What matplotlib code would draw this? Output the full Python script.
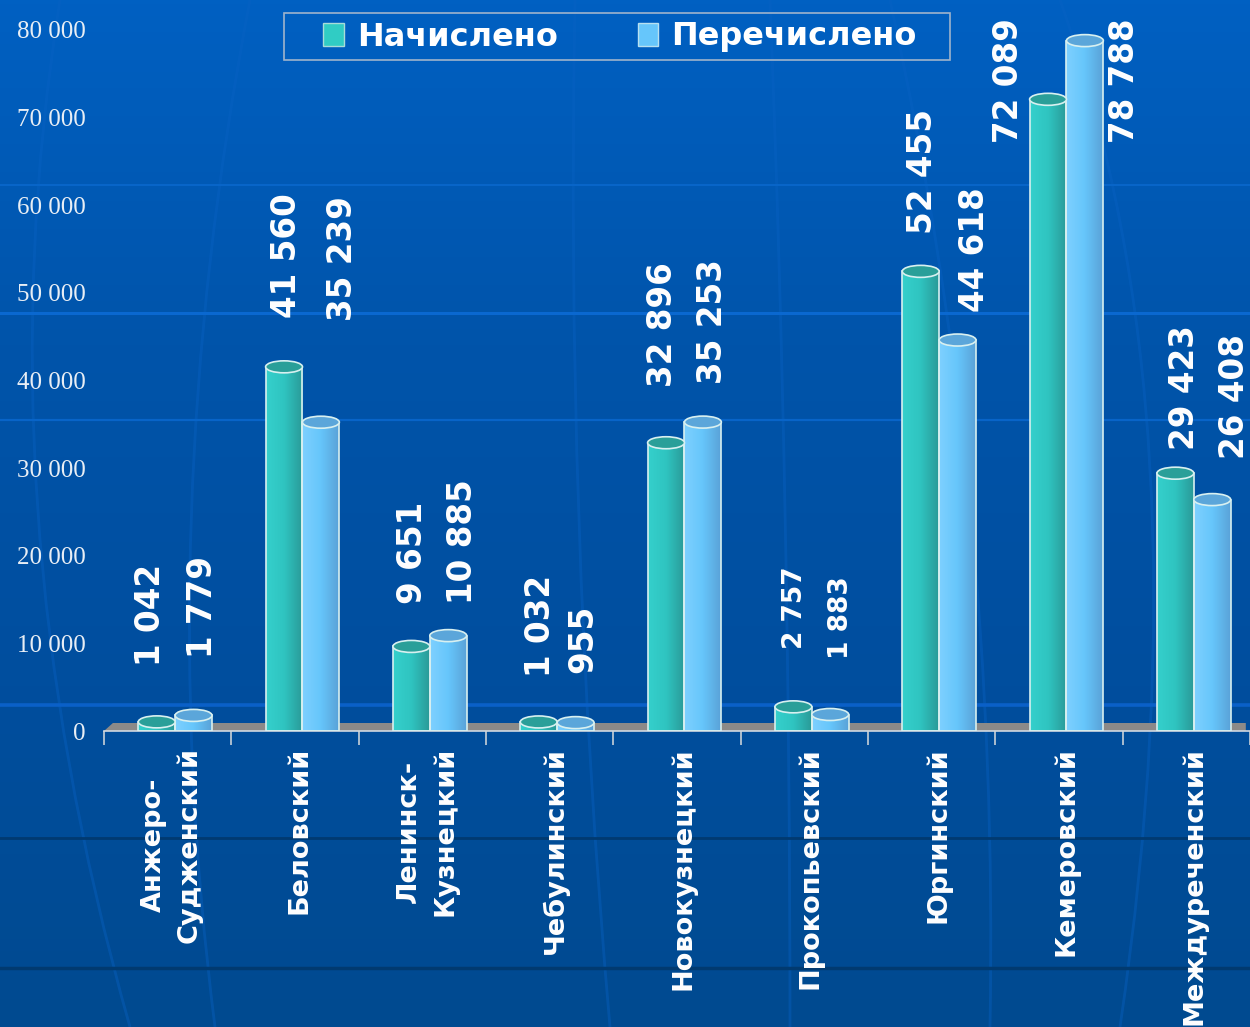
import numpy as np
import matplotlib
matplotlib.use('Agg')
import matplotlib.pyplot as plt
from matplotlib.colors import LinearSegmentedColormap
from matplotlib.patches import Ellipse, Patch, PathPatch, Polygon, Rectangle
from matplotlib.path import Path
from matplotlib.ticker import FuncFormatter

districts = ['Анжеро-\nСудженский', 'Беловский', 'Ленинск-\nКузнецкий',
             'Чебулинский', 'Новокузнецкий', 'Прокопьевский',
             'Юргинский', 'Кемеровский', 'Междуреченский']
accrued = [1042, 41560, 9651, 1032, 32896, 2757, 52455, 72089, 29423]
paid = [1779, 35239, 10885, 955, 35253, 1883, 44618, 78788, 26408]
series_names = ['Начислено', 'Перечислено']
yticks = [0, 10000, 20000, 30000, 40000, 50000, 60000, 70000, 80000]

W, H = 1250, 1027
AX_L, AX_R, AX_BOT, AX_TOP = 104, 1250, 731, 30
GROUP_W = 127.8
BAR_W = 37
SHIFT = 7.5

# label placement: (x centre px, bottom px, font size)
accrued_lbl = [(151, 666, 23.5), (287, 318, 23.5), (412, 604, 23.5), (541, 677, 23.5),
               (662, 387, 23.5), (795, 649, 19), (923, 234, 23.5), (1009, 143, 23.5),
               (1184, 450, 23.5)]
paid_lbl = [(203, 658, 23.5), (343, 321, 23.5), (462, 604, 23.5), (583, 673, 23.5),
            (712, 384, 23.5), (841, 659, 19), (974, 312, 23.5), (1125, 143, 23.5),
            (1234, 459, 23.5)]

teal = LinearSegmentedColormap.from_list('teal', ['#35d0cc', '#2fc4c0', '#2a9a98'])
sky = LinearSegmentedColormap.from_list('sky', ['#7ed0ff', '#66c6fb', '#5aa2d8'])
top_cols = ['#2a9f99', '#5ba6da']
edge = '#d8f0f0'

fig = plt.figure(figsize=(W / 100, H / 100), dpi=100)

# background
bg = fig.add_axes([0, 0, 1, 1], zorder=0)
bg_cmap = LinearSegmentedColormap.from_list('bg', ['#0060c2', '#0054aa', '#004e9e', '#004a90'])
bg.imshow(np.linspace(0, 1, 256).reshape(-1, 1), cmap=bg_cmap, aspect='auto',
          extent=(0, W, H, 0))
for y, c, lw in [(185, '#0a68cc', 1.2), (313, '#0a68d0', 2.2), (420, '#0864c8', 1.6),
                 (705, '#0a60c8', 2.6), (838, '#013a70', 2), (968, '#013a70', 2.5)]:
    bg.axhline(y, color=c, lw=lw)
curves = [((250, 0), (150, 520), (215, 1027)), ((575, 0), (565, 520), (610, 1027)),
          ((890, 0), (1000, 500), (990, 1027)), ((1060, 0), (1210, 420), (1120, 1027)),
          ((60, 0), (-20, 500), (130, 1027)), ((770, 0), (790, 500), (790, 1027))]
for p in curves:
    bg.add_patch(PathPatch(Path(p, [Path.MOVETO, Path.CURVE3, Path.CURVE3]), fc='none',
                           ec='#0a62c4', lw=2, alpha=0.4))
bg.set_xlim(0, W)
bg.set_ylim(H, 0)
bg.axis('off')

ax = fig.add_axes([AX_L / W, 1 - AX_BOT / H, (AX_R - AX_L) / W, (AX_BOT - AX_TOP) / H], zorder=1)
ax.patch.set_alpha(0)
ax.set_xlim(0, (AX_R - AX_L) / GROUP_W)
ax.set_ylim(0, 80000)
px_y = 80000 / (AX_BOT - AX_TOP)

# floor of the 3d box
ax.add_patch(Polygon([(0, 0), (0.07, 8 * px_y), (ax.get_xlim()[1], 8 * px_y), (ax.get_xlim()[1], 0)],
                     closed=True, fc='#8c8a88', ec='none', zorder=1))

x = np.arange(len(districts)) + 0.5 + SHIFT / GROUP_W
bw = BAR_W / GROUP_W
for vals, pos, cmap, top in [(accrued, x - bw / 2, teal, top_cols[0]), (paid, x + bw / 2, sky, top_cols[1])]:
    bars = ax.bar(pos, vals, bw, color='none', edgecolor=edge, linewidth=1.2, zorder=3)
    for b, v in zip(bars, vals):
        im = ax.imshow(np.linspace(0, 1, 64).reshape(1, -1), cmap=cmap, aspect='auto', zorder=2,
                       extent=(b.get_x(), b.get_x() + b.get_width(), 0, v))
        im.set_clip_path(b)
        ax.add_patch(Ellipse((b.get_x() + bw / 2, v), bw, 12 * px_y, fc=top, ec=edge, lw=1.2, zorder=4))
ax.set_xlim(0, (AX_R - AX_L) / GROUP_W)
ax.set_ylim(0, 80000)

for sp in ['top', 'right', 'left']:
    ax.spines[sp].set_visible(False)
ax.spines['bottom'].set_color('#d0d8e0')
ax.spines['bottom'].set_linewidth(1.2)

ax.set_yticks(yticks)
ax.yaxis.set_major_formatter(FuncFormatter(lambda v, _: f'{int(v):,}'.replace(',', ' ')))
ax.tick_params(axis='y', length=0, pad=13, labelcolor='#e8eef5', labelsize=18)
for t in ax.get_yticklabels():
    t.set_family('Liberation Serif')

ax.set_xticks(np.arange(0, len(districts) + 1))
ax.set_xticklabels([])
ax.tick_params(axis='x', length=10, width=1.2, color='#c8d0d8')

for i, name in enumerate(districts):
    fig.text((x[i] - 0.03) * GROUP_W / W + AX_L / W, 1 - 747 / H, name, rotation=90,
             ha='center', va='top', multialignment='center', color='white', linespacing=1.45,
             fontsize=19.5, fontweight='bold', family='DejaVu Sans', zorder=5)

for vals, lbls in [(accrued, accrued_lbl), (paid, paid_lbl)]:
    for v, (px, py, fs) in zip(vals, lbls):
        fig.text(px / W, 1 - py / H, f'{v:,}'.replace(',', ' '), rotation=90, ha='center',
                 va='bottom', color='white', fontsize=fs, fontweight='bold',
                 family='DejaVu Sans', zorder=5)

handles = [Patch(fc='#30ccc4', ec='#a8dcd8', lw=1), Patch(fc='#66c6fb', ec='#b8e0f0', lw=1)]
leg = fig.legend(handles, series_names, ncol=2, loc='center',
                 bbox_to_anchor=(620 / W, 1 - 37 / H), frameon=False,
                 handlelength=0.63, handleheight=0.7, handletextpad=0.42, columnspacing=2.5,
                 labelcolor='white', prop={'family': 'DejaVu Sans', 'weight': 'bold', 'size': 23},
                 borderpad=0.25)
leg.set_zorder(6)
fig.add_artist(Rectangle((284 / W, 1 - 60 / H), 666 / W, 47 / H, transform=fig.transFigure,
                         fc='none', ec='#9fb4cc', lw=1.2, zorder=6))

fig.savefig('out.png', dpi=100)
